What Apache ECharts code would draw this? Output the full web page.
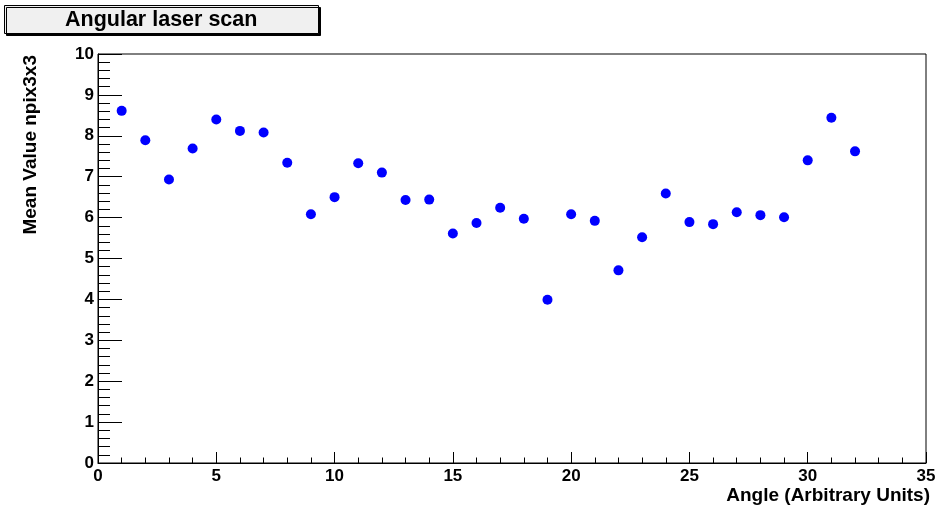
<!DOCTYPE html>
<html>
<head>
<meta charset="utf-8">
<title>Angular laser scan</title>
<script src="https://cdn.jsdelivr.net/npm/echarts@6/dist/echarts.min.js"></script>
<style>
  html, body { margin: 0; padding: 0; background: #ffffff; }
  #chart { width: 944px; height: 509px; }
</style>
</head>
<body>
<div id="chart"></div>
<script>
// Scan positions (arbitrary angle units) and the mean npix3x3 value at each
const angles = [1, 2, 3, 4, 5, 6, 7, 8, 9, 10, 11, 12, 13, 14, 15, 16,
                17, 18, 19, 20, 21, 22, 23, 24, 25, 26, 27, 28, 29, 30, 31, 32];
const meanValues = [8.61, 7.89, 6.93, 7.69, 8.40, 8.12, 8.08, 7.34, 6.08, 6.50, 7.33, 7.10, 6.43, 6.44, 5.61, 5.87,
                    6.24, 5.97, 3.99, 6.08, 5.92, 4.71, 5.52, 6.59, 5.89, 5.84, 6.13, 6.06, 6.01, 7.40, 8.44, 7.62];

const chartTitle = 'Angular laser scan';
const xTitle = 'Angle (Arbitrary Units)';
const yTitle = 'Mean Value npix3x3';

const FONT = '"Liberation Sans", Arial, Helvetica, sans-serif';

const points = angles.map((a, i) => [a, meanValues[i]]);

const chart = echarts.init(document.getElementById('chart'), null, { renderer: 'canvas' });

chart.setOption({
  animation: false,
  backgroundColor: '#ffffff',
  title: {
    text: chartTitle,
    left: 4,
    top: 5,
    padding: [4, 61, 2, 61],
    backgroundColor: '#f0f0f0',
    borderColor: '#000000',
    borderWidth: 1,
    shadowColor: '#000000',
    shadowBlur: 0,
    shadowOffsetX: 2,
    shadowOffsetY: 2,
    textStyle: {
      fontFamily: FONT,
      fontWeight: 'bold',
      fontSize: 21.5,
      color: '#000000',
      lineHeight: 23
    }
  },
  grid: {
    left: 98,
    right: 18,
    top: 54,
    bottom: 46,
    containLabel: false,
    outerBoundsMode: 'none',
    show: true,
    borderColor: '#000000',
    borderWidth: 1,
    backgroundColor: 'transparent'
  },
  xAxis: {
    type: 'value',
    min: 0,
    max: 35,
    interval: 5,
    axisLine: { show: true, onZero: false, lineStyle: { color: '#000000', width: 1 } },
    axisTick: { show: true, inside: true, length: 11, lineStyle: { color: '#000000', width: 1 } },
    minorTick: { show: true, splitNumber: 5, length: 5.5, lineStyle: { color: '#000000', width: 1 } },
    splitLine: { show: false },
    minorSplitLine: { show: false },
    axisLabel: {
      fontFamily: FONT,
      fontWeight: 'bold',
      fontSize: 17,
      color: '#000000',
      margin: 5
    }
  },
  yAxis: {
    type: 'value',
    min: 0,
    max: 10,
    interval: 1,
    axisLine: { show: true, onZero: false, lineStyle: { color: '#000000', width: 1 } },
    axisTick: { show: true, inside: true, length: 24, lineStyle: { color: '#000000', width: 1 } },
    minorTick: { show: true, splitNumber: 5, length: 12, lineStyle: { color: '#000000', width: 1 } },
    splitLine: { show: false },
    minorSplitLine: { show: false },
    axisLabel: {
      fontFamily: FONT,
      fontWeight: 'bold',
      fontSize: 17,
      color: '#000000',
      margin: 4
    }
  },
  graphic: [
    // x-axis title, right-aligned under the end of the axis
    {
      type: 'text',
      x: 930,
      y: 496,
      style: {
        text: xTitle,
        fontFamily: FONT,
        fontWeight: 'bold',
        fontSize: 19,
        fill: '#000000',
        align: 'right',
        verticalAlign: 'middle'
      }
    },
    // y-axis title, rotated and flush with the top of the frame
    {
      type: 'text',
      x: 31,
      y: 55,
      rotation: Math.PI / 2,
      style: {
        text: yTitle,
        fontFamily: FONT,
        fontWeight: 'bold',
        fontSize: 19,
        fill: '#000000',
        align: 'right',
        verticalAlign: 'middle'
      }
    }
  ],
  series: [
    {
      type: 'scatter',
      data: points,
      symbol: 'circle',
      symbolSize: 10,
      itemStyle: { color: '#0000ff', opacity: 1 },
      emphasis: { disabled: true }
    }
  ]
});
</script>
</body>
</html>
